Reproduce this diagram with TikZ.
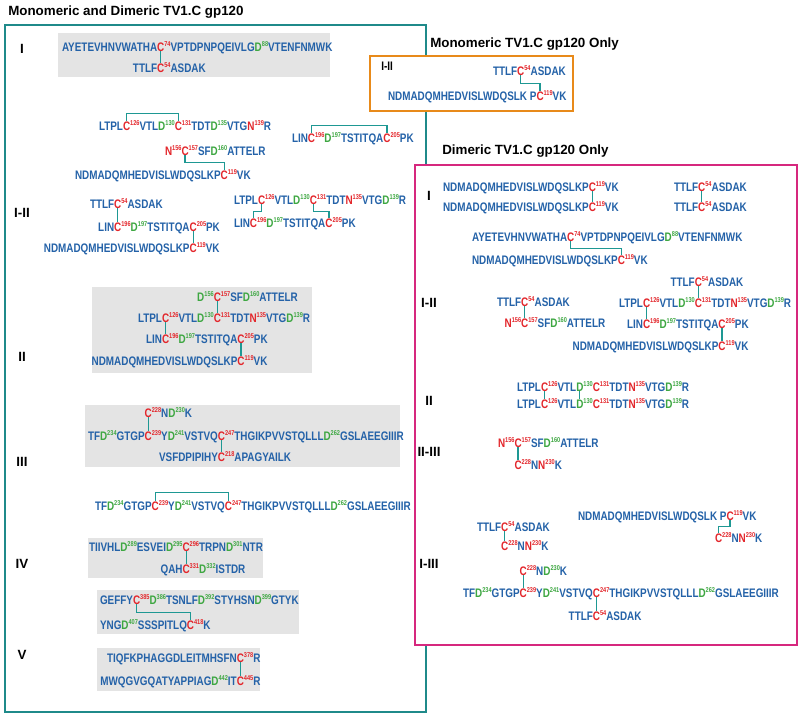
\documentclass[tikz,border=0pt]{standalone}
\usepackage{fontspec}
\setmainfont{Liberation Sans}
\newfontfamily\seqfam{Liberation Sans}[FakeStretch=0.8]
\usetikzlibrary{positioning, calc}

\definecolor{seqblue}{HTML}{2462A8}
\definecolor{resred}{HTML}{E3262B}
\definecolor{resgreen}{HTML}{3EA742}
\definecolor{linkteal}{HTML}{1E9893}
\definecolor{boxteal}{HTML}{1F8A8A}
\definecolor{boxorange}{HTML}{E88A1A}
\definecolor{boxpink}{HTML}{D6287E}
\definecolor{boxgray}{HTML}{E4E4E4}

\newcommand{\nm}[1]{\raisebox{3pt}{\fontsize{5}{6}\selectfont #1}}
\newcommand{\numR}[1]{\textcolor{resred}{\nm{#1}}}
\newcommand{\numG}[1]{\textcolor{resgreen}{\nm{#1}}}
\newcommand{\resR}[2]{\textcolor{resred}{#1\nm{#2}}}
\newcommand{\resG}[2]{\textcolor{resgreen}{#1\nm{#2}}}

\tikzset{
seq/.style={font=\seqfam\bfseries\fontsize{8.8}{10}\selectfont, text=seqblue, inner sep=0pt, outer sep=0pt, anchor=base west}, % one piece of a peptide
cys/.style={seq, text=resred}, % cysteine in a bond
asp/.style={seq, text=resgreen},
link/.style={draw=linkteal, line width=0.9pt}, % disulfide bond
title/.style={font=\bfseries\fontsize{9.5}{11}\selectfont, anchor=west, inner sep=0pt},
grouplabel/.style={font=\bfseries\fontsize{9.5}{11}\selectfont, inner sep=0pt},
}

\begin{document}
\begin{tikzpicture}[x=0.025cm, y=-0.025cm]
\useasboundingbox (0,0) rectangle (800,718);

% frames
\draw[boxteal, line width=1.3pt] (5,25) rectangle (426,712);
\draw[boxorange, line width=1.6pt, fill=white] (370,56) rectangle (573,111);
\draw[boxpink, line width=1.6pt, fill=white] (415,165) rectangle (797,645);

% titles
\node[title] (tboth) at (8,12) {Monomeric and Dimeric TV1.C gp120};
\node[title] (tmono) at (430,44) {Monomeric TV1.C gp120 Only};
\node[title] (tdim) at (442,151) {Dimeric TV1.C gp120 Only};

% grey groups
\fill[boxgray] (58,33) rectangle (330,77);
\fill[boxgray] (92,287) rectangle (312,373);
\fill[boxgray] (85,405) rectangle (400,467);
\fill[boxgray] (88,538) rectangle (263,578);
\fill[boxgray] (97,590) rectangle (299,634);
\fill[boxgray] (97,648) rectangle (260,691);

% labels
\node[grouplabel] (lmI) at (22,49) {I};
\node[grouplabel] (lmIII) at (22,213) {I-II};
\node[grouplabel] (lmII) at (22,357) {II};
\node[grouplabel] (lmIIIb) at (22,462) {III};
\node[grouplabel] (lmIV) at (22,564) {IV};
\node[grouplabel] (lmV) at (22,655) {V};
\node[grouplabel, font=\seqfam\bfseries\fontsize{8.8}{10}\selectfont, anchor=west] (loI) at (381,66) {I-II};
\node[grouplabel] (ldI) at (429,196) {I};
\node[grouplabel] (ldIII) at (429,303) {I-II};
\node[grouplabel] (ldII) at (429,401) {II};
\node[grouplabel] (ldIIIII) at (429,452) {II-III};
\node[grouplabel] (ldIIIIb) at (429,564) {I-III};

% ---- monomeric and dimeric: I
\node[seq] (m1a) at (62,51) {AYETEVHNVWATHA};
\node[cys] (m1aC) at (m1a.base east) {C};
\node[seq] (m1a2) at (m1aC.base east) {\numR{74}VPTDPNPQEIVLG\resG{D}{88}VTENFNMWK};
\coordinate (m1bP) at ($(m1aC.base west)+(0,21)$);
\node[seq, anchor=base east] (m1b) at (m1bP) {TTLF};
\node[cys] (m1bC) at (m1bP) {C};
\node[seq] (m1b2) at (m1bC.base east) {\numR{54}ASDAK};
\draw[link] (m1aC.south) -- (m1bC.north);

% ---- I-II
\node[seq] (m2a) at (99,130) {LTPL};
\node[cys] (m2aC1) at (m2a.base east) {C};
\node[seq] (m2a2) at (m2aC1.base east) {\numR{126}VTL\resG{D}{130}};
\node[cys] (m2aC2) at (m2a2.base east) {C};
\node[seq] (m2a3) at (m2aC2.base east) {\numR{131}TDT\resG{D}{135}VTG\resR{N}{139}R};
\draw[link] (m2aC1.north) -- ++(0,-8) -| (m2aC2.north);

\node[seq] (m2b) at (292,142) {LIN};
\node[cys] (m2bC1) at (m2b.base east) {C};
\node[seq] (m2b2) at (m2bC1.base east) {\numR{196}\resG{D}{197}TSTITQA};
\node[cys] (m2bC2) at (m2b2.base east) {C};
\node[seq] (m2b3) at (m2bC2.base east) {\numR{205}PK};
\draw[link] (m2bC1.north) -- ++(0,-8) -| (m2bC2.north);

\node[seq] (m2c) at (165,155) {\resR{N}{156}};
\node[cys] (m2cC) at (m2c.base east) {C};
\node[seq] (m2c2) at (m2cC.base east) {\numR{157}SF\resG{D}{160}ATTELR};
\node[seq] (m2d) at (75,179) {NDMADQMHEDVISLWDQSLKP};
\node[cys] (m2dC) at (m2d.base east) {C};
\node[seq] (m2d2) at (m2dC.base east) {\numR{119}VK};
\draw[link] (m2cC.south) |- ($(m2cC.south)!.5!(m2dC.north)$) -| (m2dC.north);

\node[seq] (m2e) at (90,208) {TTLF};
\node[cys] (m2eC) at (m2e.base east) {C};
\node[seq] (m2e2) at (m2eC.base east) {\numR{54}ASDAK};
\coordinate (m2fP) at ($(m2eC.base west)+(0,23)$);
\node[seq, anchor=base east] (m2f) at (m2fP) {LIN};
\node[cys] (m2fC1) at (m2fP) {C};
\node[seq] (m2f2) at (m2fC1.base east) {\numR{196}\resG{D}{197}TSTITQA};
\node[cys] (m2fC2) at (m2f2.base east) {C};
\node[seq] (m2f3) at (m2fC2.base east) {\numR{205}PK};
\coordinate (m2gP) at ($(m2fC2.base west)+(0,21)$);
\node[seq, anchor=base east] (m2g) at (m2gP) {NDMADQMHEDVISLWDQSLKP};
\node[cys] (m2gC) at (m2gP) {C};
\node[seq] (m2g2) at (m2gC.base east) {\numR{119}VK};
\draw[link] (m2eC.south) -- (m2fC1.north);
\draw[link] (m2fC2.south) -- (m2gC.north);

\node[seq] (m2h) at (234,204) {LTPL};
\node[cys] (m2hC1) at (m2h.base east) {C};
\node[seq] (m2h2) at (m2hC1.base east) {\numR{126}VTL\resG{D}{130}};
\node[cys] (m2hC2) at (m2h2.base east) {C};
\node[seq] (m2h3) at (m2hC2.base east) {\numR{131}TDT\resR{N}{135}VTG\resG{D}{139}R};
\node[seq] (m2i) at (234,227) {LIN};
\node[cys] (m2iC1) at (m2i.base east) {C};
\node[seq] (m2i2) at (m2iC1.base east) {\numR{196}\resG{D}{197}TSTITQA};
\node[cys] (m2iC2) at (m2i2.base east) {C};
\node[seq] (m2i3) at (m2iC2.base east) {\numR{205}PK};
\draw[link] (m2hC1.south) |- ($(m2hC1.south)!.5!(m2iC1.north)$) -| (m2iC1.north);
\draw[link] (m2hC2.south) |- ($(m2hC2.south)!.5!(m2iC2.north)$) -| (m2iC2.north);

% ---- II
\node[seq] (m3b) at (138,322) {LTPL};
\node[cys] (m3bC1) at (m3b.base east) {C};
\node[seq] (m3b2) at (m3bC1.base east) {\numR{126}VTL\resG{D}{130}};
\node[cys] (m3bC2) at (m3b2.base east) {C};
\node[seq] (m3b3) at (m3bC2.base east) {\numR{131}TDT\resR{N}{135}VTG\resG{D}{139}R};
\coordinate (m3aP) at ($(m3bC2.base west)+(0,-21)$);
\node[seq, anchor=base east] (m3a) at (m3aP) {\resG{D}{156}};
\node[cys] (m3aC) at (m3aP) {C};
\node[seq] (m3a2) at (m3aC.base east) {\numR{157}SF\resG{D}{160}ATTELR};
\coordinate (m3cP) at ($(m3bC1.base west)+(0,21)$);
\node[seq, anchor=base east] (m3c) at (m3cP) {LIN};
\node[cys] (m3cC1) at (m3cP) {C};
\node[seq] (m3c2) at (m3cC1.base east) {\numR{196}\resG{D}{197}TSTITQA};
\node[cys] (m3cC2) at (m3c2.base east) {C};
\node[seq] (m3c3) at (m3cC2.base east) {\numR{205}PK};
\coordinate (m3dP) at ($(m3cC2.base west)+(0,22)$);
\node[seq, anchor=base east] (m3d) at (m3dP) {NDMADQMHEDVISLWDQSLKP};
\node[cys] (m3dC) at (m3dP) {C};
\node[seq] (m3d2) at (m3dC.base east) {\numR{119}VK};
\draw[link] (m3aC.south) -- (m3bC2.north);
\draw[link] (m3bC1.south) -- (m3cC1.north);
\draw[link] (m3cC2.south) -- (m3dC.north);

% ---- III
\node[seq] (m4b) at (88,440) {TF\resG{D}{234}GTGP};
\node[cys] (m4bC1) at (m4b.base east) {C};
\node[seq] (m4b2) at (m4bC1.base east) {\numR{239}Y\resG{D}{241}VSTVQ};
\node[cys] (m4bC2) at (m4b2.base east) {C};
\node[seq] (m4b3) at (m4bC2.base east) {\numR{247}THGIKPVVSTQLLL\resG{D}{262}GSLAEEGIIIR};
\node[cys] (m4aC) at ($(m4bC1.base west)+(0,-23)$) {C};
\node[seq] (m4a2) at (m4aC.base east) {\numR{228}N\resG{D}{230}K};
\coordinate (m4cP) at ($(m4bC2.base west)+(0,21)$);
\node[seq, anchor=base east] (m4c) at (m4cP) {VSFDPIPIHY};
\node[cys] (m4cC) at (m4cP) {C};
\node[seq] (m4c2) at (m4cC.base east) {\numR{218}APAGYAILK};
\draw[link] (m4aC.south) -- (m4bC1.north);
\draw[link] (m4bC2.south) -- (m4cC.north);

\node[seq] (m5) at (95,510) {TF\resG{D}{234}GTGP};
\node[cys] (m5C1) at (m5.base east) {C};
\node[seq] (m52) at (m5C1.base east) {\numR{239}Y\resG{D}{241}VSTVQ};
\node[cys] (m5C2) at (m52.base east) {C};
\node[seq] (m53) at (m5C2.base east) {\numR{247}THGIKPVVSTQLLL\resG{D}{262}GSLAEEGIIIR};
\draw[link] (m5C1.north) -- ++(0,-9) -| (m5C2.north);

% ---- IV
\node[seq] (m6a) at (89,551) {TIIVHL\resG{D}{289}ESVEI\resG{D}{295}};
\node[cys] (m6aC) at (m6a.base east) {C};
\node[seq] (m6a2) at (m6aC.base east) {\numR{296}TRPN\resG{D}{301}NTR};
\coordinate (m6bP) at ($(m6aC.base west)+(0,22)$);
\node[seq, anchor=base east] (m6b) at (m6bP) {QAH};
\node[cys] (m6bC) at (m6bP) {C};
\node[seq] (m6b2) at (m6bC.base east) {\numR{331}\resG{D}{332}ISTDR};
\draw[link] (m6aC.south) -- (m6bC.north);

% ---- V
\node[seq] (m7a) at (100,604) {GEFFY};
\node[cys] (m7aC) at (m7a.base east) {C};
\node[seq] (m7a2) at (m7aC.base east) {\numR{385}\resG{D}{386}TSNLF\resG{D}{392}STYHSN\resG{D}{399}GTYK};
\node[seq] (m7b) at (100,629) {YNG\resG{D}{407}SSSPITLQ};
\node[cys] (m7bC) at (m7b.base east) {C};
\node[seq] (m7b2) at (m7bC.base east) {\numR{418}K};
\draw[link] (m7aC.south) |- ($(m7aC.south)!.5!(m7bC.north)$) -| (m7bC.north);

\node[seq] (m7c) at (107,662) {TIQFKPHAGGDLEITMHSFN};
\node[cys] (m7cC) at (m7c.base east) {C};
\node[seq] (m7c2) at (m7cC.base east) {\numR{378}R};
\coordinate (m7dP) at ($(m7cC.base west)+(0,23)$);
\node[seq, anchor=base east] (m7d) at (m7dP) {MWQGVGQATYAPPIAG\resG{D}{442}IT};
\node[cys] (m7dC) at (m7dP) {C};
\node[seq] (m7d2) at (m7dC.base east) {\numR{445}R};
\draw[link] (m7cC.south) -- (m7dC.north);

% ---- monomeric only
\node[seq] (o1a) at (493,75) {TTLF};
\node[cys] (o1aC) at (o1a.base east) {C};
\node[seq] (o1a2) at (o1aC.base east) {\numR{54}ASDAK};
\node[seq] (o1b) at (388,100) {NDMADQMHEDVISLWDQSLK P};
\node[cys] (o1bC) at (o1b.base east) {C};
\node[seq] (o1b2) at (o1bC.base east) {\numR{119}VK};
\draw[link] (o1aC.south) |- ($(o1aC.south)!.5!(o1bC.north)$) -| (o1bC.north);

% ---- dimeric only: I
\node[seq] (d1a) at (443,191) {NDMADQMHEDVISLWDQSLKP};
\node[cys] (d1aC) at (d1a.base east) {C};
\node[seq] (d1a2) at (d1aC.base east) {\numR{119}VK};
\coordinate (d1bP) at ($(d1aC.base west)+(0,20)$);
\node[seq, anchor=base east] (d1b) at (d1bP) {NDMADQMHEDVISLWDQSLKP};
\node[cys] (d1bC) at (d1bP) {C};
\node[seq] (d1b2) at (d1bC.base east) {\numR{119}VK};
\draw[link] (d1aC.south) -- (d1bC.north);
\node[seq] (d1c) at (674,191) {TTLF};
\node[cys] (d1cC) at (d1c.base east) {C};
\node[seq] (d1c2) at (d1cC.base east) {\numR{54}ASDAK};
\coordinate (d1dP) at ($(d1cC.base west)+(0,20)$);
\node[seq, anchor=base east] (d1d) at (d1dP) {TTLF};
\node[cys] (d1dC) at (d1dP) {C};
\node[seq] (d1d2) at (d1dC.base east) {\numR{54}ASDAK};
\draw[link] (d1cC.south) -- (d1dC.north);
\node[seq] (d1e) at (472,241) {AYETEVHNVWATHA};
\node[cys] (d1eC) at (d1e.base east) {C};
\node[seq] (d1e2) at (d1eC.base east) {\numR{74}VPTDPNPQEIVLG\resG{D}{88}VTENFNMWK};
\node[seq] (d1f) at (472,264) {NDMADQMHEDVISLWDQSLKP};
\node[cys] (d1fC) at (d1f.base east) {C};
\node[seq] (d1f2) at (d1fC.base east) {\numR{119}VK};
\draw[link] (d1eC.south) |- ($(d1eC.south)!.5!(d1fC.north)$) -| (d1fC.north);

% ---- I-II
\node[seq] (d2a) at (497,306) {TTLF};
\node[cys] (d2aC) at (d2a.base east) {C};
\node[seq] (d2a2) at (d2aC.base east) {\numR{54}ASDAK};
\coordinate (d2bP) at ($(d2aC.base west)+(0,21)$);
\node[seq, anchor=base east] (d2b) at (d2bP) {\resR{N}{156}};
\node[cys] (d2bC) at (d2bP) {C};
\node[seq] (d2b2) at (d2bC.base east) {\numR{157}SF\resG{D}{160}ATTELR};
\draw[link] (d2aC.south) -- (d2bC.north);

\node[seq] (d2d) at (619,307) {LTPL};
\node[cys] (d2dC1) at (d2d.base east) {C};
\node[seq] (d2d2) at (d2dC1.base east) {\numR{126}VTL\resG{D}{130}};
\node[cys] (d2dC2) at (d2d2.base east) {C};
\node[seq] (d2d3) at (d2dC2.base east) {\numR{131}TDT\resR{N}{135}VTG\resG{D}{139}R};
\coordinate (d2cP) at ($(d2dC2.base west)+(0,-21)$);
\node[seq, anchor=base east] (d2c) at (d2cP) {TTLF};
\node[cys] (d2cC) at (d2cP) {C};
\node[seq] (d2c2) at (d2cC.base east) {\numR{54}ASDAK};
\coordinate (d2eP) at ($(d2dC1.base west)+(0,21)$);
\node[seq, anchor=base east] (d2e) at (d2eP) {LIN};
\node[cys] (d2eC1) at (d2eP) {C};
\node[seq] (d2e2) at (d2eC1.base east) {\numR{196}\resG{D}{197}TSTITQA};
\node[cys] (d2eC2) at (d2e2.base east) {C};
\node[seq] (d2e3) at (d2eC2.base east) {\numR{205}PK};
\coordinate (d2fP) at ($(d2eC2.base west)+(0,22)$);
\node[seq, anchor=base east] (d2f) at (d2fP) {NDMADQMHEDVISLWDQSLKP};
\node[cys] (d2fC) at (d2fP) {C};
\node[seq] (d2f2) at (d2fC.base east) {\numR{119}VK};
\draw[link] (d2cC.south) -- (d2dC2.north);
\draw[link] (d2dC1.south) -- (d2eC1.north);
\draw[link] (d2eC2.south) -- (d2fC.north);

% ---- II
\node[seq] (d3a) at (517,391) {LTPL};
\node[cys] (d3aC) at (d3a.base east) {C};
\node[seq] (d3a2) at (d3aC.base east) {\numR{126}VTL};
\node[asp] (d3aD) at (d3a2.base east) {D};
\node[seq] (d3a3) at (d3aD.base east) {\numG{130}\resR{C}{131}TDT\resR{N}{135}VTG\resG{D}{139}R};
\node[seq] (d3b) at ($(d3a.base west)+(0,17)$) {LTPL};
\node[cys] (d3bC) at (d3b.base east) {C};
\node[seq] (d3b2) at (d3bC.base east) {\numR{126}VTL};
\node[asp] (d3bD) at (d3b2.base east) {D};
\node[seq] (d3b3) at (d3bD.base east) {\numG{130}\resR{C}{131}TDT\resR{N}{135}VTG\resG{D}{139}R};
\draw[link] (d3aC.south) -- (d3bC.north);
\draw[link] (d3aD.south) -- (d3bD.north);

% ---- II-III
\node[seq] (d4a) at (498,447) {\resR{N}{156}};
\node[cys] (d4aC) at (d4a.base east) {C};
\node[seq] (d4a2) at (d4aC.base east) {\numR{157}SF\resG{D}{160}ATTELR};
\node[cys] (d4bC) at ($(d4aC.base west)+(0,22)$) {C};
\node[seq] (d4b2) at (d4bC.base east) {\numR{228}N\resR{N}{230}K};
\draw[link] (d4aC.south) -- (d4bC.north);

% ---- I-III
\node[seq] (d5a) at (477,531) {TTLF};
\node[cys] (d5aC) at (d5a.base east) {C};
\node[seq] (d5a2) at (d5aC.base east) {\numR{54}ASDAK};
\node[cys] (d5bC) at ($(d5aC.base west)+(0,19)$) {C};
\node[seq] (d5b2) at (d5bC.base east) {\numR{228}N\resR{N}{230}K};
\draw[link] (d5aC.south) -- (d5bC.north);

\node[seq] (d5c) at (578,520) {NDMADQMHEDVISLWDQSLK P};
\node[cys] (d5cC) at (d5c.base east) {C};
\node[seq] (d5c2) at (d5cC.base east) {\numR{119}VK};
\node[cys] (d5dC) at (715,542) {C};
\node[seq] (d5d2) at (d5dC.base east) {\numR{228}N\resR{N}{230}K};
\draw[link] (d5cC.south) |- ($(d5cC.south)!.5!(d5dC.north)$) -| (d5dC.north);

\node[seq] (d5e) at (463,597) {TF\resG{D}{234}GTGP};
\node[cys] (d5eC1) at (d5e.base east) {C};
\node[seq] (d5e2) at (d5eC1.base east) {\numR{239}Y\resG{D}{241}VSTVQ};
\node[cys] (d5eC2) at (d5e2.base east) {C};
\node[seq] (d5e3) at (d5eC2.base east) {\numR{247}THGIKPVVSTQLLL\resG{D}{262}GSLAEEGIIIR};
\node[cys] (d5fC) at ($(d5eC1.base west)+(0,-22)$) {C};
\node[seq] (d5f2) at (d5fC.base east) {\numR{228}N\resG{D}{230}K};
\coordinate (d5gP) at ($(d5eC2.base west)+(0,23)$);
\node[seq, anchor=base east] (d5g) at (d5gP) {TTLF};
\node[cys] (d5gC) at (d5gP) {C};
\node[seq] (d5g2) at (d5gC.base east) {\numR{54}ASDAK};
\draw[link] (d5fC.south) -- (d5eC1.north);
\draw[link] (d5eC2.south) -- (d5gC.north);

\end{tikzpicture}
\end{document}
